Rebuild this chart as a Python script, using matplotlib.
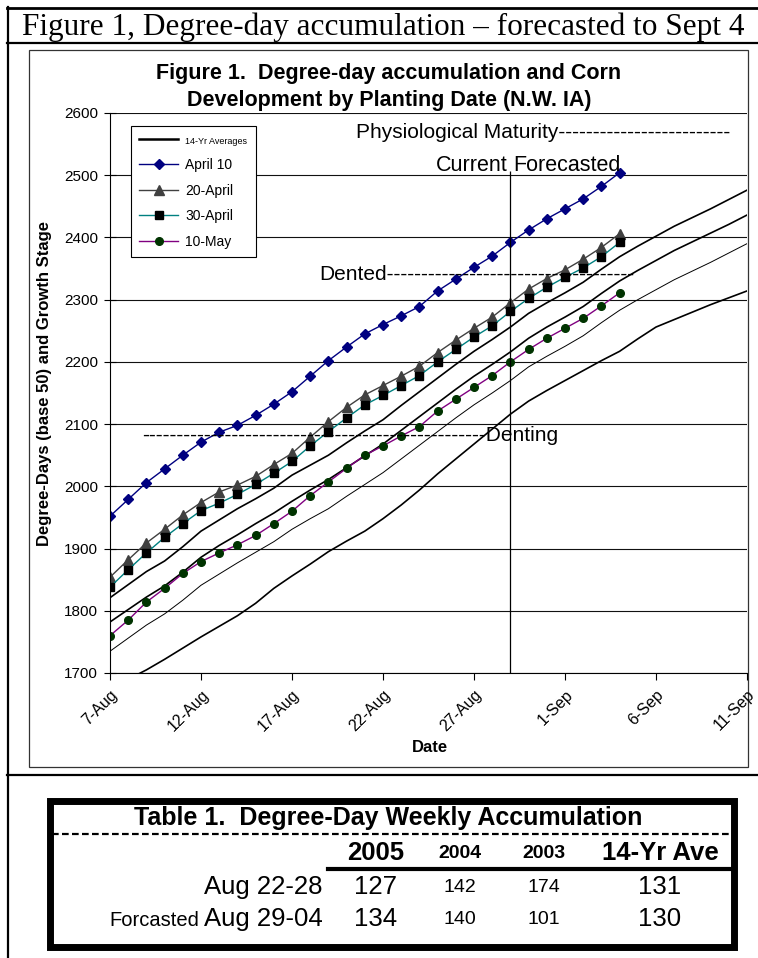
import matplotlib
matplotlib.use("Agg")
import matplotlib.pyplot as plt
import matplotlib.dates as mdates
from matplotlib import font_manager
from matplotlib.patches import Rectangle
import pandas as pd

# planting-date series, one value per day from Aug 7 to Sep 4
days = pd.date_range("2005-08-07", "2005-09-04")
april10 = [1952, 1979, 2006, 2028, 2050, 2071, 2087, 2098, 2114, 2132, 2152, 2177, 2202, 2224, 2245,
           2260, 2274, 2289, 2314, 2333, 2352, 2370, 2392, 2412, 2430, 2446, 2462, 2482, 2504]
april20 = [1854, 1882, 1909, 1931, 1954, 1974, 1991, 2002, 2016, 2035, 2053, 2079, 2104, 2127, 2147,
           2162, 2177, 2193, 2215, 2235, 2254, 2272, 2295, 2317, 2334, 2348, 2365, 2384, 2406]
april30 = [1838, 1866, 1893, 1918, 1940, 1961, 1973, 1987, 2003, 2021, 2040, 2065, 2088, 2110, 2131,
           2146, 2162, 2178, 2200, 2220, 2240, 2258, 2281, 2302, 2320, 2336, 2351, 2369, 2392]
may10 = [1760, 1785, 1814, 1836, 1860, 1879, 1893, 1906, 1921, 1940, 1960, 1985, 2007, 2029, 2050,
         2065, 2081, 2096, 2121, 2140, 2159, 2178, 2200, 2220, 2238, 2254, 2270, 2290, 2311]

# 14-yr averages, Aug 7 to Sep 11
avg_days = pd.date_range("2005-08-07", "2005-09-11")
avg_a = [1821, 1842, 1863, 1880, 1903, 1928, 1946, 1964, 1980, 1997, 2018, 2034, 2050, 2070, 2089, 2107,
         2130, 2152, 2174, 2196, 2217, 2236, 2256, 2278, 2295, 2311, 2328, 2349, 2369, 2386, 2402, 2418,
         2432, 2446, 2461, 2476]
avg_b = [1782, 1802, 1822, 1840, 1862, 1886, 1905, 1922, 1940, 1957, 1976, 1994, 2011, 2030, 2049, 2068,
         2090, 2112, 2134, 2156, 2177, 2196, 2216, 2238, 2256, 2272, 2289, 2310, 2330, 2347, 2363, 2379,
         2393, 2407, 2421, 2436]
avg_c = [1735, 1756, 1777, 1795, 1817, 1841, 1859, 1877, 1894, 1911, 1931, 1948, 1964, 1984, 2003, 2022,
         2044, 2066, 2088, 2110, 2131, 2150, 2170, 2192, 2209, 2225, 2242, 2263, 2283, 2300, 2316, 2332,
         2346, 2360, 2375, 2390]
avg_d = [1676, 1690, 1705, 1722, 1740, 1758, 1775, 1792, 1812, 1836, 1856, 1875, 1895, 1912, 1928, 1948,
         1970, 1994, 2020, 2044, 2068, 2092, 2116, 2137, 2154, 2170, 2186, 2202, 2217, 2237, 2256, 2268,
         2280, 2292, 2303, 2314]

current_day = pd.Timestamp("2005-08-29")

# table 1 values
table_rows = ["Aug 22-28", "Aug 29-04"]
col_2005 = [127, 134]
col_2004 = [142, 140]
col_2003 = [174, 101]
col_avg = [131, 130]

names = {f.name for f in font_manager.fontManager.ttflist}
sans = "Liberation Sans Narrow" if "Liberation Sans Narrow" in names else "Liberation Sans"
plt.rcParams["font.family"] = [sans, "DejaVu Sans"]

W, H = 758, 958
fig = plt.figure(figsize=(W / 100, H / 100), dpi=100)

# page overlay in pixel coordinates
page = fig.add_axes([0, 0, 1, 1])
page.set_xlim(0, W)
page.set_ylim(H, 0)
page.axis("off")
page.plot([7, W], [8, 8], color="black", lw=2)
page.plot([8, 8], [7, H], color="black", lw=1.6)
page.plot([7, W], [43, 43], color="black", lw=1.6)
page.plot([7, W], [775, 775], color="black", lw=1.6)
page.text(22, 27, "Figure 1, Degree-day accumulation \u2013 forecasted to Sept 4",
          family="Liberation Serif", fontsize=22.5, va="center", ha="left")
page.add_patch(Rectangle((29, 50), 719, 717, fill=False, edgecolor="#333333", lw=0.9))

# chart title and axis labels
page.text(389, 73, "Figure 1.  Degree-day accumulation and Corn", fontsize=15.5, weight="bold",
          ha="center", va="center")
page.text(389, 100, "Development by Planting Date (N.W. IA)", fontsize=15.5, weight="bold",
          ha="center", va="center")
page.text(45, 384, "Degree-Days (base 50) and Growth Stage", fontsize=12, weight="bold",
          ha="center", va="center", rotation=90)
page.text(430, 748, "Date", fontsize=12, weight="bold", ha="center", va="center")

ax = fig.add_axes([110 / W, 1 - 673 / H, 637 / W, (673 - 113) / H])
ax.plot(avg_days, avg_a, color="black", lw=1.2, label="14-Yr Averages")
ax.plot(avg_days, avg_b, color="black", lw=1.2)
ax.plot(avg_days, avg_c, color="black", lw=0.7)
ax.plot(avg_days, avg_d, color="black", lw=1.2)
ax.plot(days, april10, color="#000080", lw=1, marker="D", ms=5, mfc="#000080", mec="#000080",
        label="April 10")
ax.plot(days, april20, color="#404040", lw=1, marker="^", ms=7.5, mfc="#404040", mec="#404040",
        label="20-April")
ax.plot(days, april30, color="#008080", lw=1, marker="s", ms=5.5, mfc="black", mec="black",
        label="30-April")
ax.plot(days, may10, color="#800080", lw=1, marker="o", ms=5.5, mfc="#003300", mec="#003300",
        label="10-May")
ax.vlines(current_day, 1700, 2507, color="black", lw=0.9)

ax.set_xlim(pd.Timestamp("2005-08-07"), pd.Timestamp("2005-09-11"))
ax.set_ylim(1700, 2600)
ax.set_yticks(range(1700, 2601, 100))
ax.set_xticks(pd.date_range("2005-08-07", "2005-09-11", freq="5D"))
ax.xaxis.set_major_formatter(mdates.DateFormatter("%-d-%b"))
ax.grid(axis="y", color="#111111", lw=0.8)
ax.set_axisbelow(True)
for s in ["top", "right"]:
    ax.spines[s].set_visible(False)
ax.tick_params(axis="y", direction="inout", length=9, labelsize=11, pad=4)
ax.tick_params(axis="x", direction="out", length=5, labelsize=11.5, pad=5)
plt.setp(ax.get_xticklabels(), rotation=45, ha="right", rotation_mode="anchor")

# stage annotations
ax.text(pd.Timestamp("2005-08-20 12:00"), 2568, "Physiological Maturity" + "-" * 25, fontsize=15,
        va="center", ha="left")
ax.text(pd.Timestamp("2005-08-28 20:00"), 2515, "Current", fontsize=15.5, va="center", ha="right")
ax.text(pd.Timestamp("2005-08-29 04:00"), 2515, "Forecasted", fontsize=15.5, va="center", ha="left")
ax.text(pd.Timestamp("2005-08-18 12:00"), 2340, "Dented" + "-" * 36, fontsize=15, va="center",
        ha="left")
ax.text(pd.Timestamp("2005-08-08 19:00"), 2081, "-" * 50 + "Denting", fontsize=15, va="center",
        ha="left")

leg = ax.legend(loc="upper left", bbox_to_anchor=(0.033, 0.977), borderaxespad=0, fontsize=10,
                frameon=True, fancybox=False, edgecolor="black", framealpha=1, handlelength=2.8,
                labelspacing=0.85, borderpad=0.6, handletextpad=0.5)
leg.get_frame().set_linewidth(0.8)
leg.get_texts()[0].set_fontsize(6.5)
leg.get_lines()[0].set_linewidth(1.8)

# table 1
page.add_patch(Rectangle((49.5, 800.5), 684, 146, fill=False, edgecolor="black", lw=5))
page.text(388, 818, "Table 1.  Degree-Day Weekly Accumulation", fontsize=18, weight="bold",
          ha="center", va="center")
page.plot([52, 731], [834, 834], color="black", lw=1.6, ls=(0, (3, 1.5)))
page.plot([328, 731], [869, 869], color="black", lw=3)
col_x = [376, 460, 544, 660]
head = ["2005", "2004", "2003", "14-Yr Ave"]
head_size = [18.5, 14, 14, 18.5]
for x, t, s in zip(col_x, head, head_size):
    page.text(x, 853, t, fontsize=s, weight="bold", ha="center", va="center")
row_y = [887, 919]
for i, y in enumerate(row_y):
    page.text(323, y, table_rows[i], fontsize=18.5, ha="right", va="center")
    vals = [col_2005[i], col_2004[i], col_2003[i], col_avg[i]]
    for x, v, s in zip(col_x, vals, head_size):
        page.text(x, y + (1 if s < 15 else 0), str(v), fontsize=s, ha="center", va="center")
page.text(199, 920, "Forcasted", fontsize=14.5, ha="right", va="center")

fig.savefig("out.png", dpi=100)
